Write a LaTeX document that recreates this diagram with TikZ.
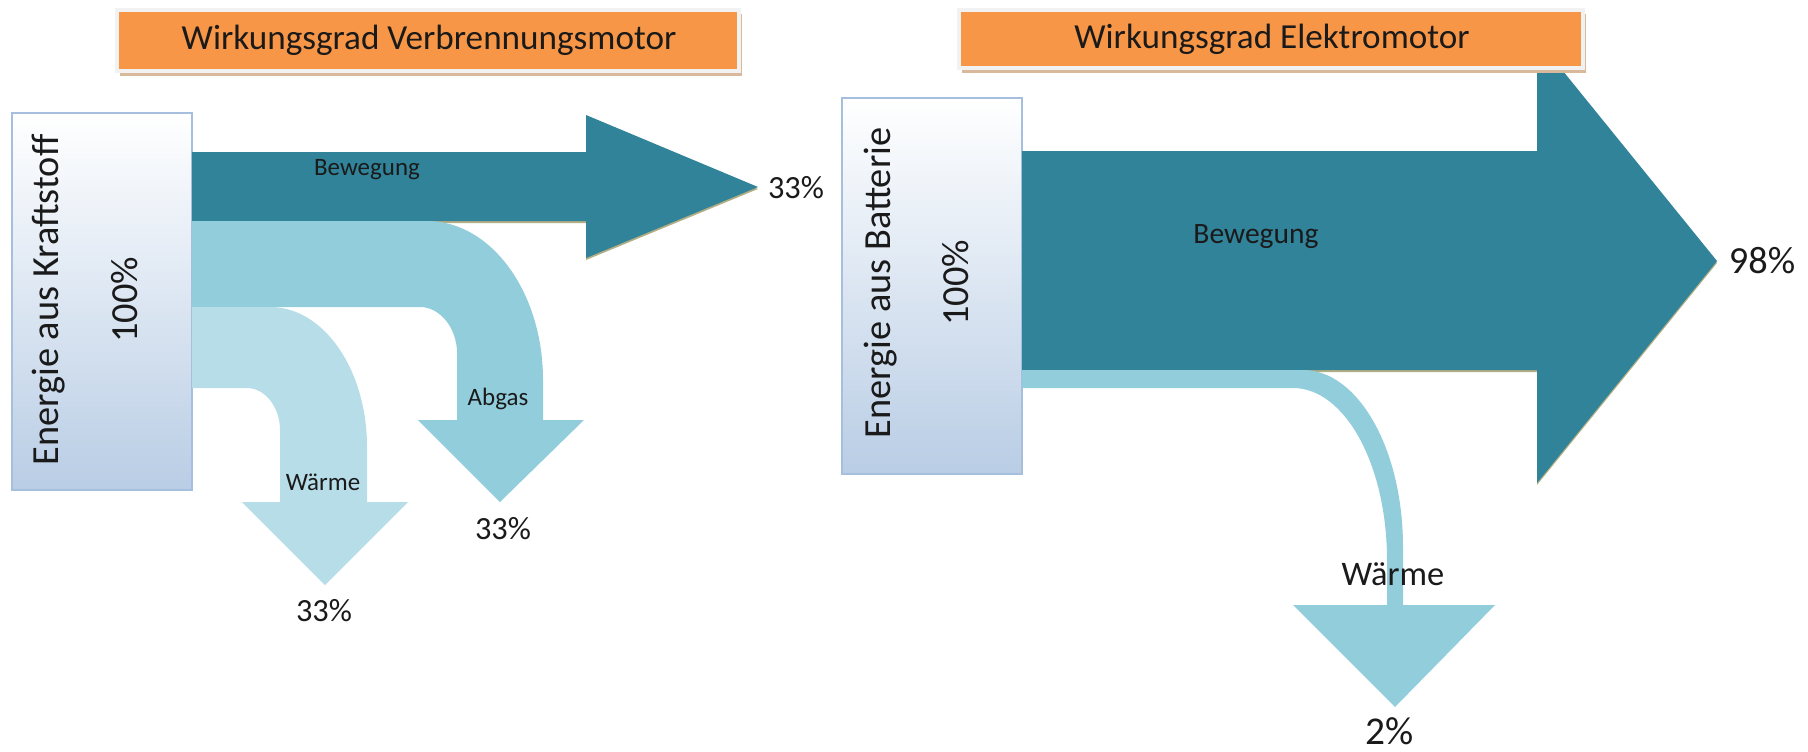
\documentclass[tikz,border=0pt]{standalone}
\usepackage{fontspec}
\setmainfont{Carlito}

\definecolor{flowdark}{HTML}{31839A}
\definecolor{flowmid}{HTML}{92CDDC}
\definecolor{flowlight}{HTML}{B6DDE8}
\definecolor{titleorange}{HTML}{F79646}
\definecolor{titleedge}{HTML}{F2F2F2}
\definecolor{shadowtan}{HTML}{D9B99B}
\definecolor{boxbottom}{HTML}{B9CDE5}
\definecolor{boxedge}{HTML}{A7BFDE}
\definecolor{shadowolive}{HTML}{B3AE84}
\definecolor{labelgray}{HTML}{1A1A1A}

\begin{document}
\begin{tikzpicture}[x=0.01cm, y=-0.01cm,
    every node/.style={inner sep=0pt, text=labelgray},
    titletext/.style={font=\fontsize{10}{12}\selectfont},
    sourcetext/.style={rotate=90, font=\fontsize{10.9}{13}\selectfont},
    flowtext/.style={font=\fontsize{7.1}{9}\selectfont},
    pcttext/.style={font=\fontsize{9.2}{11}\selectfont},
    orangebox/.style={fill=titleorange, draw=titleedge, line width=0.9pt},
    sourcebox/.style={top color=white, bottom color=boxbottom, draw=boxedge, line width=0.4pt}]
\useasboundingbox (0,0) rectangle (1808,751);

\draw[sourcebox] (12,113) rectangle (192,490);
\draw[sourcebox] (842,98) rectangle (1022,474);

\fill[shadowolive] (192,154) -- (586,154) -- (586,117) -- (758,189) -- (586,260) -- (586,223) -- (192,223) -- cycle;
\fill[flowdark] (192,152) -- (586,152) -- (586,115) -- (758,187) -- (586,258) -- (586,221) -- (192,221) -- cycle;

\fill[flowmid] (192,221) -- (427,221) .. controls (491,221) and (543,292) .. (543,380) -- (543,420) -- (584,420) -- (500,502)
  -- (418,420) -- (457,420) -- (457,353) .. controls (457,328) and (440,307) .. (420,307) -- (192,307) -- cycle;

\fill[flowlight] (192,307) -- (270,307) .. controls (324,307) and (367,370) .. (367,447) -- (367,502) -- (408,502) -- (325,585)
  -- (242,502) -- (280,502) -- (280,430) .. controls (280,407) and (265,388) .. (247,388) -- (192,388) -- cycle;

\fill[shadowolive] (1022,153) -- (1537,153) -- (1537,41) -- (1717,263) -- (1537,485) -- (1537,372) -- (1022,372) -- cycle;
\fill[flowdark] (1022,151) -- (1537,151) -- (1537,39) -- (1717,261) -- (1537,483) -- (1537,370) -- (1022,370) -- cycle;

\fill[flowmid] (1022,370) -- (1303,370) .. controls (1358,370) and (1403,449) .. (1403,547) -- (1403,605) -- (1495,605) -- (1395,707)
  -- (1293,605) -- (1387,605) -- (1387,560) .. controls (1387,465) and (1345,388) .. (1293,388) -- (1022,388) -- cycle;

\fill[shadowtan] (120,14) rectangle (742,76);
\draw[orangebox] (117,10) rectangle (739,71);
\fill[shadowtan] (962,14) rectangle (1586,73);
\draw[orangebox] (959,10) rectangle (1583,68);

\node[titletext] (titleVerb) at (429,40) {Wirkungsgrad Verbrennungsmotor};
\node[titletext] (titleElek) at (1272,39) {Wirkungsgrad Elektromotor};

\node[sourcetext] (srcKraft) at (49,300) {Energie aus Kraftstoff};
\node[sourcetext] (srcKraftPct) at (125,300) {100\%};
\node[sourcetext] (srcBatt) at (881,283) {Energie aus Batterie};
\node[sourcetext] (srcBattPct) at (956,283) {100\%};

\node[flowtext] (bewVerb) at (367,170) {Bewegung};
\node[pcttext] (pctBewVerb) at (796,188) {33\%};
\node[flowtext] (abgas) at (498,399) {Abgas};
\node[pcttext] (pctAbgas) at (503,529) {33\%};
\node[flowtext] (waermeVerb) at (323,482) {Wärme};
\node[pcttext] (pctWaermeVerb) at (324,611) {33\%};

\node[flowtext, font=\fontsize{8.4}{10}\selectfont] (bewElek) at (1256,237) {Bewegung};
\node[pcttext, font=\fontsize{10.9}{13}\selectfont] (pctBewElek) at (1762,261) {98\%};
\node[pcttext, font=\fontsize{9.8}{12}\selectfont] (waermeElek) at (1393,574) {Wärme};
\node[pcttext, font=\fontsize{11.2}{13}\selectfont] (pctWaermeElek) at (1390,731) {2\%};
\end{tikzpicture}
\end{document}
